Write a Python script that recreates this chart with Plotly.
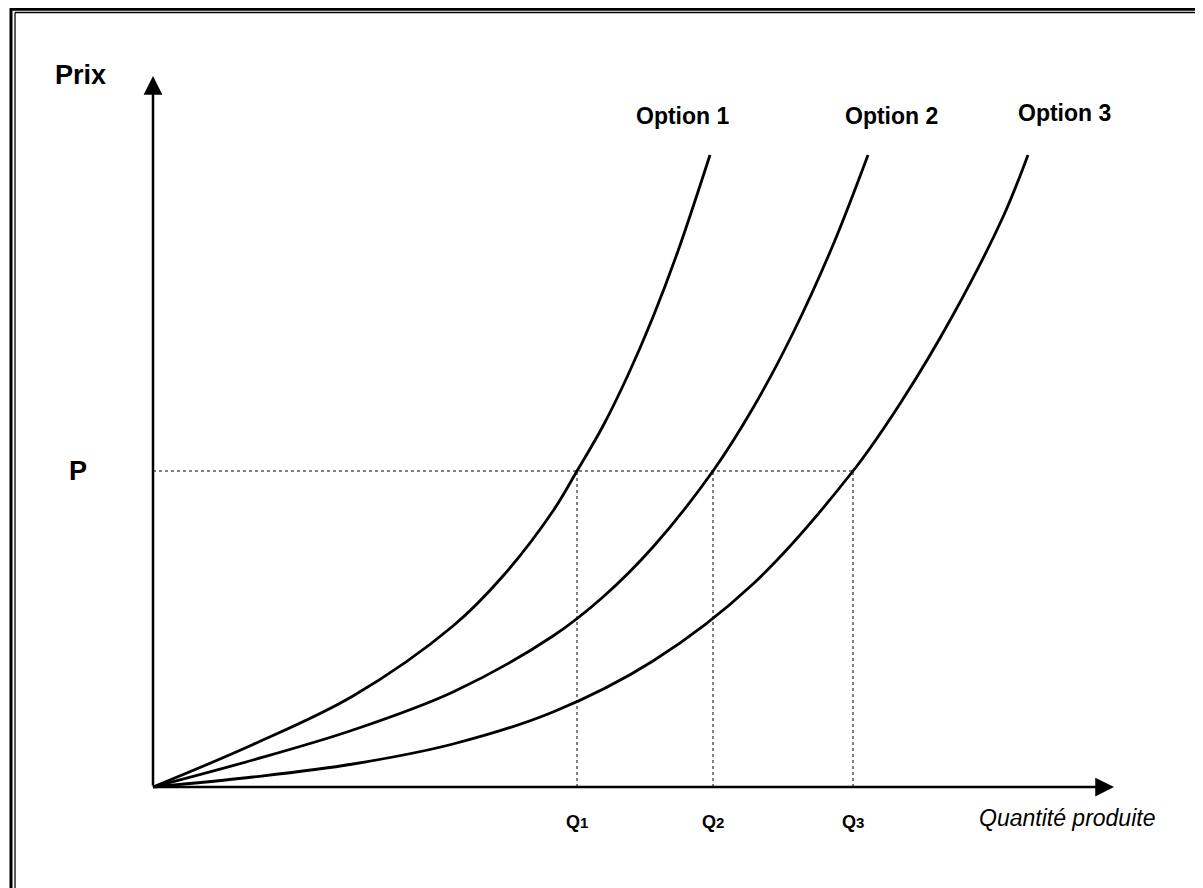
import plotly.graph_objects as go

# ---- data (quantity units, price units) ----
opt1_q = [0, 10, 20, 30, 35, 40, 42.4, 45, 47.5, 50, 52.5, 55.7]
opt1_p = [0, 4.25, 9.1, 16.1, 21.1, 27.6, 31.6, 36.1, 41.2, 47.0, 53.6, 63.2]

opt2_q = [0, 10, 20, 30, 40, 45, 50, 56, 60, 64, 68, 71.5]
opt2_p = [0, 2.7, 5.7, 9.5, 15.1, 19.0, 24.0, 31.6, 37.9, 45.4, 54.2, 63.2]

opt3_q = [0, 10, 20, 30, 40, 50, 60, 70, 75, 80, 85, 87.5]
opt3_p = [0, 1.0, 2.3, 4.3, 7.5, 12.6, 20.3, 31.6, 38.8, 47.2, 57.0, 63.2]

series_names = ["Option 1", "Option 2", "Option 3"]
Q_values = [42.4, 56.0, 70.0]
Q_digits = ["1", "2", "3"]
P_value = 31.6
x_axis_end = 96.1
y_axis_end = 71.1

FONT = "Liberation Sans"
W, H = 1195, 880  # page adds an 8px body margin

fig = go.Figure()

for q, p in [(opt1_q, opt1_p), (opt2_q, opt2_p), (opt3_q, opt3_p)]:
    fig.add_trace(go.Scatter(x=q, y=p, mode="lines",
                             line=dict(color="black", width=2.8, shape="spline", smoothing=1.0),
                             showlegend=False, hoverinfo="skip"))

# dotted guide lines
fig.add_trace(go.Scatter(x=[0, Q_values[2]], y=[P_value, P_value], mode="lines",
                         line=dict(color="black", width=1, dash="dot"), showlegend=False, hoverinfo="skip"))
for qv in Q_values:
    fig.add_trace(go.Scatter(x=[qv, qv], y=[0, P_value], mode="lines",
                             line=dict(color="black", width=1, dash="dot"), showlegend=False, hoverinfo="skip"))

# axes with arrows
fig.add_annotation(x=x_axis_end, y=0, ax=0, ay=0, xref="x", yref="y", axref="x", ayref="y",
                   text="", showarrow=True, arrowhead=2, arrowsize=1.5, arrowwidth=2.5, arrowcolor="black")
fig.add_annotation(x=0, y=y_axis_end, ax=0, ay=0, xref="x", yref="y", axref="x", ayref="y",
                   text="", showarrow=True, arrowhead=2, arrowsize=1.5, arrowwidth=2.5, arrowcolor="black")

# curve labels
label_pos = [(opt1_q[-1] - 2.8, opt1_p[-1] + 2.4), (opt2_q[-1] + 2.3, opt2_p[-1] + 2.4),
             (opt3_q[-1] + 3.6, opt3_p[-1] + 2.7)]
for name, (lx, ly) in zip(series_names, label_pos):
    fig.add_annotation(x=lx, y=ly, xref="x", yref="y", text=f"<b>{name}</b>", showarrow=False,
                       font=dict(family=FONT, size=23, color="black"), yanchor="bottom")

# Q labels
for qv, qd in zip(Q_values, Q_digits):
    fig.add_annotation(x=qv, y=-3.5, xref="x", yref="y",
                       text=f"<b>Q<span style='font-size:15px'>{qd}</span></b>", showarrow=False,
                       font=dict(family=FONT, size=18, color="black"))

fig.add_annotation(x=91.4, y=-3.1, xref="x", yref="y", text="<i>Quantité produite</i>", showarrow=False,
                   font=dict(family=FONT, size=23, color="black"))
fig.add_annotation(x=-7.5, y=P_value, xref="x", yref="y", text="<b>P</b>", showarrow=False,
                   font=dict(family=FONT, size=27, color="black"))
fig.add_annotation(x=-7.3, y=71.2, xref="x", yref="y", text="<b>Prix</b>", showarrow=False,
                   font=dict(family=FONT, size=27, color="black"))

# scanned frame (double lines top and left)
frame = [
    dict(x0=3 / W, x1=1.0, y0=1 - 1.2 / H, y1=1 - 1.2 / H, width=3),
    dict(x0=7 / W, x1=1.0, y0=1 - 4.5 / H, y1=1 - 4.5 / H, width=1.3),
    dict(x0=3 / W, x1=3 / W, y0=0, y1=1, width=3),
    dict(x0=7 / W, x1=7 / W, y0=0, y1=1 - 4.5 / H, width=1.3),
]
for f in frame:
    fig.add_shape(type="line", xref="paper", yref="paper", x0=f["x0"], x1=f["x1"], y0=f["y0"], y1=f["y1"],
                  line=dict(color="black", width=f["width"]))

fig.update_layout(
    width=W, height=H, margin=dict(l=0, r=0, t=0, b=0),
    paper_bgcolor="white", plot_bgcolor="white",
    xaxis=dict(range=[-14.5, 105.0], visible=False, fixedrange=True),
    yaxis=dict(range=[-10.1, 77.9], visible=False, fixedrange=True),
)

fig.write_html("out.html")
